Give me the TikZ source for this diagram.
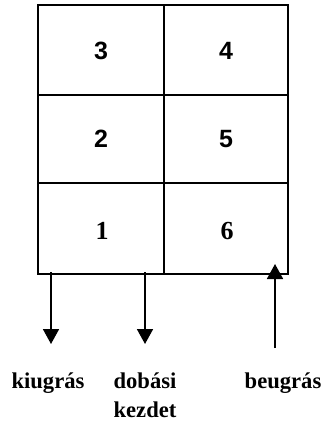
\documentclass[tikz,border=0pt]{standalone}
\usepackage{fontspec}
\setmainfont{Liberation Serif}
\setsansfont{Liberation Sans}
\usetikzlibrary{arrows.meta}
\tikzset{
  gridline/.style={line width=1.6pt},
  numsans/.style={font=\fontsize{25}{28}\selectfont\sffamily\bfseries, inner sep=0pt},
  numserif/.style={font=\fontsize{26}{29}\selectfont\bfseries, inner sep=0pt},
  lbl/.style={font=\fontsize{22.6}{28}\selectfont\bfseries, inner sep=0pt, anchor=base},
  arr/.style={line width=1.8pt, -{Triangle[width=16pt,length=15pt]}}
}
\begin{document}
\begin{tikzpicture}[x=1pt,y=-1pt]
\useasboundingbox (0,0) rectangle (321,422);
% grid
\draw[gridline] (38,5) rectangle (288,274);
\draw[gridline] (164,5) -- (164,274);
\draw[gridline] (38,95) -- (288,95);
\draw[gridline] (38,183) -- (288,183);
% numbers
\node[numsans] (n3) at (101,51) {3};
\node[numsans] (n4) at (226,51) {4};
\node[numsans] (n2) at (101,139) {2};
\node[numsans] (n5) at (226,139) {5};
\node[numserif] (n1) at (102,231) {1};
\node[numserif] (n6) at (227,231) {6};
% arrow anchors
\coordinate (a1s) at (51,272);
\coordinate (a1e) at (51,344);
\coordinate (a2s) at (145,272);
\coordinate (a2e) at (145,344);
\coordinate (a3s) at (275,348);
\coordinate (a3e) at (275,264);
\draw[arr] (a1s) -- (a1e);
\draw[arr] (a2s) -- (a2e);
\draw[arr] (a3s) -- (a3e);
% labels
\node[lbl] (l1) at (48,388) {kiugrás};
\node[lbl] (l2) at (145,388) {dobási};
\node[lbl] (l2b) at (145,417) {kezdet};
\node[lbl] (l3) at (283,388) {beugrás};
\end{tikzpicture}
\end{document}
